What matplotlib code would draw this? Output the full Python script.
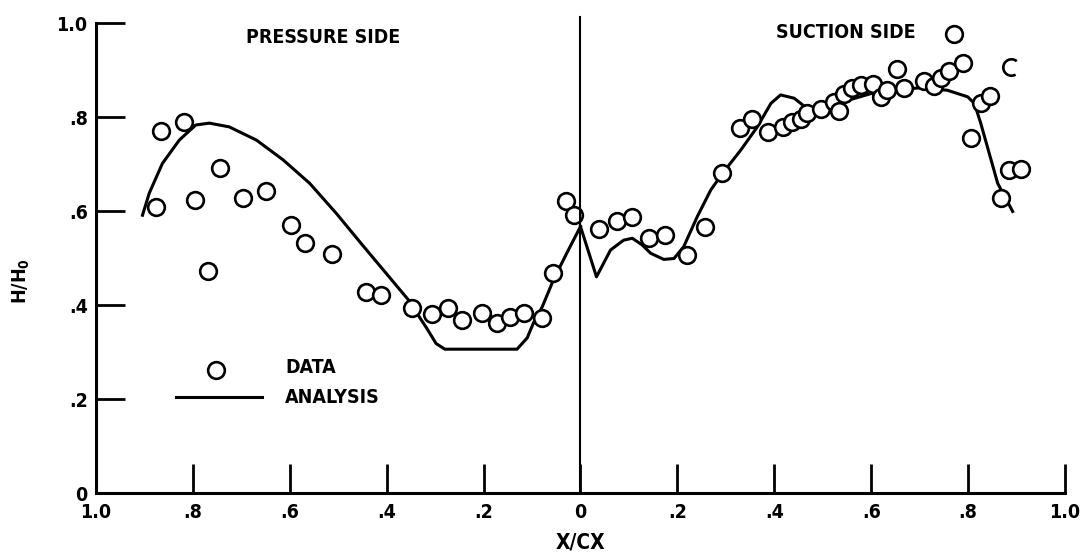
import numpy as np
import matplotlib.pyplot as plt
from matplotlib.path import Path


# -----------------------------
# Data (x/cx measured from leading edge on each side)
# -----------------------------
ps_data_x = [0.865, 0.818, 0.876, 0.744, 0.795, 0.697, 0.649, 0.597, 0.569, 0.513,
             0.768, 0.442, 0.411, 0.348, 0.307, 0.273, 0.245, 0.204, 0.172, 0.146,
             0.116, 0.079, 0.057, 0.029, 0.014]
ps_data_y = [0.771, 0.790, 0.609, 0.691, 0.623, 0.627, 0.643, 0.570, 0.531, 0.509,
             0.473, 0.428, 0.421, 0.393, 0.381, 0.394, 0.368, 0.382, 0.362, 0.375,
             0.384, 0.372, 0.469, 0.622, 0.591]

ss_data_x = [0.038, 0.076, 0.107, 0.141, 0.174, 0.220, 0.256, 0.293, 0.329, 0.355,
             0.386, 0.417, 0.437, 0.455, 0.468, 0.496, 0.523, 0.534, 0.544, 0.561,
             0.579, 0.603, 0.620, 0.632, 0.654, 0.668, 0.709, 0.730, 0.744, 0.761,
             0.789, 0.771, 0.806, 0.826, 0.845, 0.868, 0.885, 0.909]
ss_data_y = [0.561, 0.579, 0.587, 0.542, 0.548, 0.506, 0.565, 0.680, 0.776, 0.795,
             0.769, 0.778, 0.790, 0.795, 0.808, 0.818, 0.833, 0.812, 0.848, 0.862,
             0.868, 0.870, 0.843, 0.857, 0.902, 0.862, 0.877, 0.866, 0.882, 0.897,
             0.914, 0.977, 0.756, 0.830, 0.845, 0.627, 0.687, 0.689]

# broken symbol near the trailing edge
ss_broken_x = [0.888]
ss_broken_y = [0.907]

ps_curve_x = [0.904, 0.890, 0.863, 0.828, 0.794, 0.766, 0.725, 0.669, 0.614, 0.559,
              0.504, 0.452, 0.352, 0.331, 0.317, 0.298, 0.280, 0.131, 0.110, 0.097,
              0.079, 0.056, 0.028, 0.0]
ps_curve_y = [0.591, 0.638, 0.701, 0.751, 0.783, 0.787, 0.779, 0.751, 0.709, 0.659,
              0.595, 0.530, 0.407, 0.372, 0.350, 0.318, 0.306, 0.306, 0.330, 0.362,
              0.396, 0.453, 0.511, 0.567]

ss_curve_x = [0.0, 0.033, 0.062, 0.089, 0.107, 0.127, 0.145, 0.172, 0.193, 0.213,
              0.241, 0.269, 0.296, 0.331, 0.365, 0.393, 0.413, 0.441, 0.468, 0.50,
              0.55, 0.60, 0.65, 0.70, 0.757, 0.799, 0.813, 0.826, 0.861, 0.892]
ss_curve_y = [0.567, 0.460, 0.517, 0.538, 0.542, 0.528, 0.510, 0.497, 0.499, 0.524,
              0.588, 0.645, 0.684, 0.730, 0.779, 0.829, 0.847, 0.840, 0.818, 0.815,
              0.835, 0.850, 0.858, 0.862, 0.857, 0.843, 0.829, 0.787, 0.659, 0.599]

x_ticks = [-1.0, -0.8, -0.6, -0.4, -0.2, 0.0, 0.2, 0.4, 0.6, 0.8, 1.0]
x_tick_labels = ["1.0", ".8", ".6", ".4", ".2", "0", ".2", ".4", ".6", ".8", "1.0"]
y_ticks = [0.0, 0.2, 0.4, 0.6, 0.8, 1.0]
y_tick_labels = ["0", ".2", ".4", ".6", ".8", "1.0"]


# -----------------------------
# Style
# -----------------------------
plt.rcParams['font.family'] = ['DejaVu Sans']
plt.rcParams['font.stretch'] = 'condensed'
plt.rcParams['font.weight'] = 'bold'
plt.rcParams['axes.labelweight'] = 'bold'
plt.rcParams['mathtext.default'] = 'bf'

fig = plt.figure(figsize=(10.82, 5.56), dpi=100)
ax = fig.add_axes([0.0887, 0.1133, 0.8956, 0.8453])

mk = dict(marker='o', markersize=12, markerfacecolor='white',
          markeredgecolor='black', markeredgewidth=1.9, linestyle='none')

# analysis curves (pressure side drawn to the left of zero)
ax.plot(-np.array(ps_curve_x), ps_curve_y, color='black', lw=2.2)
ax.plot(ss_curve_x, ss_curve_y, color='black', lw=2.2)

# data points
ax.plot(-np.array(ps_data_x), ps_data_y, **mk)
ax.plot(ss_data_x, ss_data_y, **mk)
ax.plot(ss_broken_x, ss_broken_y, marker=Path.arc(50, 300), markersize=12,
        markerfacecolor='none', markeredgecolor='black', markeredgewidth=1.9,
        linestyle='none')

# leading edge line
ax.plot([0, 0], [0, 1.012], color='black', lw=1.5, clip_on=False)

ax.set_xlim(-1, 1)
ax.set_ylim(0, 1)

ax.spines['top'].set_visible(False)
ax.spines['right'].set_visible(False)
ax.spines['left'].set_linewidth(2.2)
ax.spines['bottom'].set_linewidth(2.2)

ax.set_xticks(x_ticks)
ax.set_xticklabels(x_tick_labels)
ax.set_yticks(y_ticks)
ax.set_yticklabels(y_tick_labels)
ax.tick_params(axis='both', direction='in', length=21, width=2.0,
               labelsize=14, pad=6)
ax.tick_params(axis='x', pad=7)

ax.set_xlabel("X/CX", fontsize=15, labelpad=8)
ax.set_ylabel("H/H$_0$", fontsize=14)
ax.yaxis.set_label_coords(-0.066, 0.45)


# -----------------------------
# Labels and key
# -----------------------------
ax.text(-0.69, 0.969, "PRESSURE SIDE", fontsize=14, va='center', ha='left')
ax.text(0.403, 0.979, "SUCTION SIDE", fontsize=14, va='center', ha='left')

ax.plot([-0.752], [0.262], **mk)
ax.plot([-0.835, -0.657], [0.204, 0.204], color='black', lw=2.2)
ax.text(-0.61, 0.268, "DATA", fontsize=14, va='center', ha='left')
ax.text(-0.61, 0.204, "ANALYSIS", fontsize=14, va='center', ha='left')

plt.savefig("out.png", dpi=100)
